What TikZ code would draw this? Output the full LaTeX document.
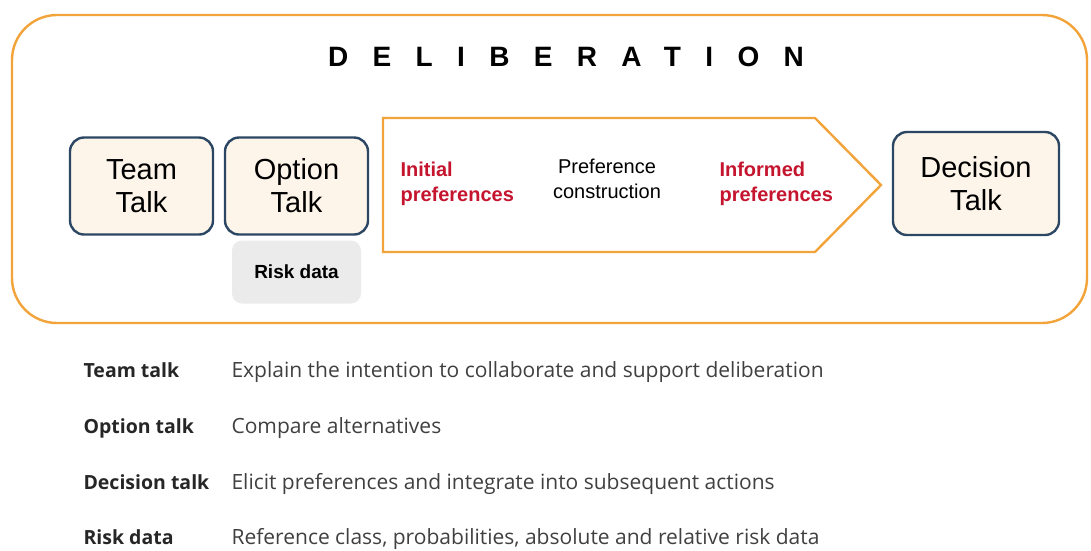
\documentclass[tikz,border=0pt]{standalone}
\usepackage{fontspec}
\setmainfont{Liberation Sans}
\newfontfamily\tablefont{Open Sans}
\usetikzlibrary{positioning}

\definecolor{frameorange}{HTML}{F2A33A}
\definecolor{talkblue}{HTML}{2C4763}
\definecolor{talkfill}{HTML}{FDF5EA}
\definecolor{prefred}{HTML}{C4142E}
\definecolor{riskgray}{HTML}{EBEBEB}

\tikzset{
  talkbox/.style={draw=talkblue, fill=talkfill, line width=2.4pt, rounded corners=14pt,
    align=center, font=\fontsize{29}{33}\selectfont, inner sep=0pt},
  prefred/.style={text=prefred, align=left, font=\fontsize{20}{25}\selectfont\bfseries},
  tablelabel/.style={anchor=base west, font=\tablefont\fontsize{19.5}{24}\selectfont\bfseries, text=black!85},
  tabletext/.style={anchor=base west, font=\tablefont\fontsize{21}{25}\selectfont, text=black!75}
}

\begin{document}
\begin{tikzpicture}[x=1pt, y=-1pt]
  \useasboundingbox (0,0) rectangle (1091,550);

  % outer frame
  \draw[frameorange, line width=2.4pt, rounded corners=45pt] (12,15) rectangle (1087,323);
  \node (title) at (566,57) {\fontsize{28}{30}\selectfont\bfseries\addfontfeature{LetterSpace=87}DELIBERATION};

  % talk boxes
  \node[talkbox, minimum width=143pt, minimum height=97pt] (team) at (141.5,186) {Team\\Talk};
  \node[talkbox, minimum width=143pt, minimum height=97pt] (option) at (296.5,186) {Option\\Talk};
  \node[talkbox, minimum width=166pt, minimum height=103pt] (decision) at (976,183.5) {Decision\\Talk};

  \node[fill=riskgray, rounded corners=10pt, minimum width=129pt, minimum height=63pt,
    font=\fontsize{19}{22}\selectfont\bfseries] (risk) at (296.5,272) {Risk data};

  % preference arrow
  \draw[frameorange, line width=2.4pt, line join=miter]
    (383,118) -- (815,118) -- (881,185) -- (815,252) -- (383,252) -- cycle;
  \node[prefred, anchor=west] (initial) at (397,184) {Initial\\preferences};
  \node[align=center, font=\fontsize{20}{24.5}\selectfont] (construction) at (607,179) {Preference\\construction};
  \node[prefred, anchor=west] (informed) at (716,184) {Informed\\preferences};

  % legend table
  \node[tablelabel] (l1) at (80,377) {Team talk};
  \node[tabletext]  (t1) at (228,377) {Explain the intention to collaborate and support deliberation};
  \node[tablelabel] (l2) at (80,433) {Option talk};
  \node[tabletext]  (t2) at (228,433) {Compare alternatives};
  \node[tablelabel] (l3) at (80,489) {Decision talk};
  \node[tabletext]  (t3) at (228,489) {Elicit preferences and integrate into subsequent actions};
  \node[tablelabel] (l4) at (80,544) {Risk data};
  \node[tabletext]  (t4) at (228,544) {Reference class, probabilities, absolute and relative risk data};
\end{tikzpicture}
\end{document}
